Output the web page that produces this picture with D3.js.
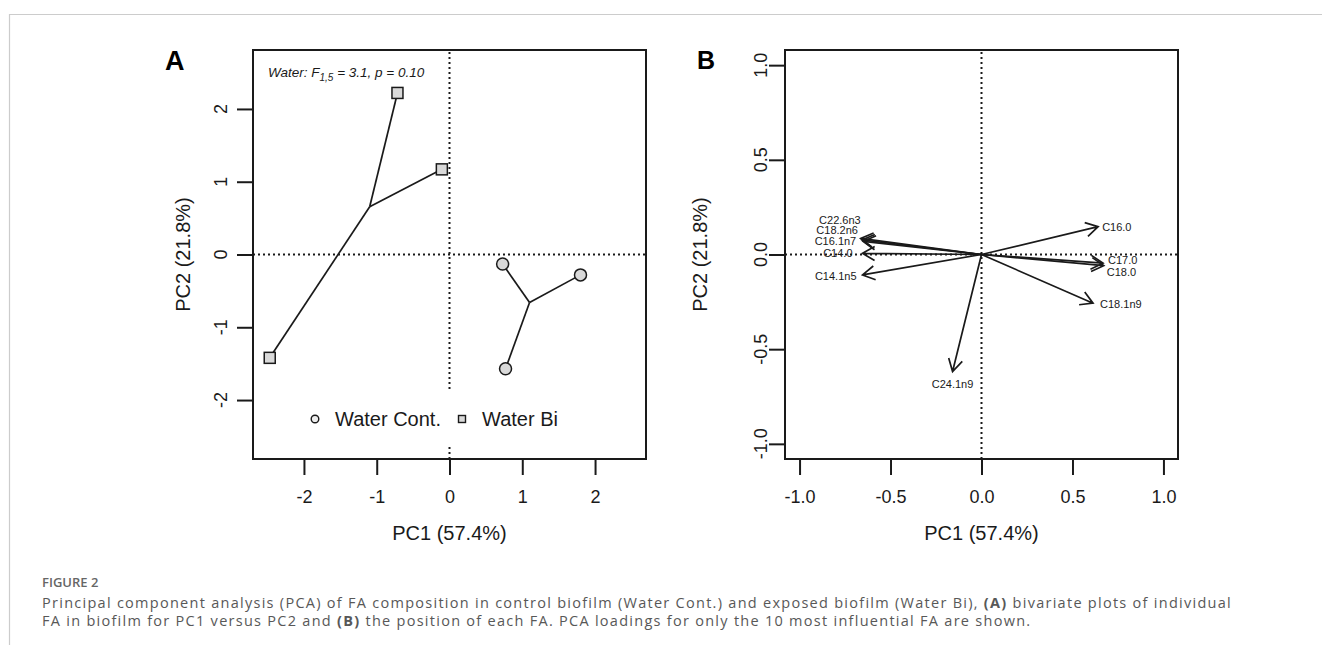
<!DOCTYPE html>
<html><head><meta charset="utf-8">
<script src="https://cdn.jsdelivr.net/npm/d3@7"></script>
<style>body{margin:0;background:#fff} svg{display:block}</style>
</head><body>
<svg id="c" width="1322" height="655"></svg>
<script>
// ---------- DATA ----------
const groupNames = ["Water Cont.", "Water Bi"];
const contPC1 = [0.73, 1.80, 0.77];
const contPC2 = [-0.13, -0.28, -1.57];
const biPC1 = [-0.715, -0.105, -2.47];
const biPC2 = [2.22, 1.17, -1.42];
const ticksA = [-2, -1, 0, 1, 2];
const tickLabelsA = ["-2", "-1", "0", "1", "2"];

const faNames = ["C16.0", "C17.0", "C18.0", "C18.1n9", "C22.6n3", "C18.2n6", "C16.1n7", "C14.0", "C14.1n5", "C24.1n9"];
const loadPC1 = [0.641, 0.668, 0.672, 0.613, -0.664, -0.657, -0.650, -0.654, -0.654, -0.159];
const loadPC2 = [0.147, -0.046, -0.059, -0.257, 0.085, 0.077, 0.069, 0.006, -0.108, -0.618];
const ticksB = [-1, -0.5, 0, 0.5, 1];
const tickLabelsB = ["-1.0", "-0.5", "0.0", "0.5", "1.0"];

const axisTitleX = "PC1 (57.4%)";
const axisTitleY = "PC2 (21.8%)";

// ---------- LAYOUT ----------
const FONT = "'Liberation Sans', Arial, Helvetica, sans-serif";
const INK = "#1a1a1a";
const FILL = "#d9d9d9";
const labelLayout = {
  "C16.0":   {anchor: "start",  dx: 4,   dy: 0},
  "C17.0":   {anchor: "start",  dx: 5,   dy: -3},
  "C18.0":   {anchor: "start",  dx: 3,   dy: 6},
  "C18.1n9": {anchor: "start",  dx: 7,   dy: 1},
  "C22.6n3": {anchor: "end",    dx: 0,   dy: -18},
  "C18.2n6": {anchor: "end",    dx: -4,  dy: -9.5},
  "C16.1n7": {anchor: "end",    dx: -7,  dy: -0.7},
  "C14.0":   {anchor: "end",    dx: -10, dy: 0},
  "C14.1n5": {anchor: "end",    dx: -6,  dy: 0.7},
  "C24.1n9": {anchor: "middle", dx: 0,   dy: 12.5}
};

const svg = d3.select("#c");

// page border
svg.append("path").attr("d", "M9.5,645 V14.5 H1322").attr("fill", "none")
  .attr("stroke", "#cccccc").attr("stroke-width", 1.2);

function drawFrame(g, x, y, ticks, tickLabels, yTickBase, yTitleBase) {
  const [x0, x1] = x.range(), [y0, y1] = y.range();
  const ax = g.append("g").attr("transform", `translate(0,${y0})`)
    .call(d3.axisBottom(x).tickValues(ticks).tickSize(16).tickPadding(0)
      .tickFormat((d, i) => tickLabels[i]));
  ax.select(".domain").remove();
  ax.selectAll(".tick line").attr("stroke", INK).attr("stroke-width", 2);
  ax.selectAll(".tick text").attr("fill", INK).attr("font-family", FONT)
    .attr("font-size", 18).attr("dy", null).attr("y", 502.5 - y0)
    .attr("dominant-baseline", "auto");
  const ay = g.append("g").attr("transform", `translate(${x0},0)`)
    .call(d3.axisLeft(y).tickValues(ticks).tickSize(16).tickFormat(""));
  ay.select(".domain").remove();
  ay.selectAll(".tick line").attr("stroke", INK).attr("stroke-width", 2);
  g.selectAll(null).data(ticks).join("text")
    .attr("transform", (d) => `translate(${yTickBase},${y(d)}) rotate(-90)`)
    .attr("text-anchor", "middle").attr("font-family", FONT).attr("font-size", 18)
    .attr("fill", INK).text((d, i) => tickLabels[i]);
  g.append("text").attr("x", (x0 + x1) / 2).attr("y", 540).attr("text-anchor", "middle")
    .attr("font-family", FONT).attr("font-size", 20).attr("fill", INK).text(axisTitleX);
  g.append("text").attr("transform", `translate(${yTitleBase},${(y0 + y1) / 2}) rotate(-90)`)
    .attr("text-anchor", "middle").attr("font-family", FONT).attr("font-size", 20)
    .attr("fill", INK).text(axisTitleY);
}
function zeroLines(g, x, y) {
  const [x0, x1] = x.range(), [y0, y1] = y.range();
  g.append("line").attr("x1", x0).attr("x2", x1).attr("y1", y(0)).attr("y2", y(0));
  g.append("line").attr("x1", x(0)).attr("x2", x(0)).attr("y1", y0).attr("y2", y1);
  g.selectAll("line").attr("stroke", INK).attr("stroke-width", 2).attr("stroke-dasharray", "2,3");
}
function box(g, x, y) {
  const [x0, x1] = x.range(), [y0, y1] = y.range();
  g.append("rect").attr("x", x0).attr("y", y1).attr("width", x1 - x0).attr("height", y0 - y1)
    .attr("fill", "none").attr("stroke", INK).attr("stroke-width", 2);
}

// ---------- PANEL A ----------
const xA = d3.scaleLinear().domain([-2.70, 2.70]).range([253, 646]);
const yA = d3.scaleLinear().domain([-2.81, 2.81]).range([459, 50]);
const gA = svg.append("g");
zeroLines(gA.append("g"), xA, yA);

// legend background (covers the dotted line)
gA.append("rect").attr("x", 298).attr("y", 392).attr("width", 280).attr("height", 53).attr("fill", "#fff");

const groupsA = [
  {name: groupNames[0], px: contPC1, py: contPC2, shape: "circle"},
  {name: groupNames[1], px: biPC1, py: biPC2, shape: "square"}
];
groupsA.forEach((grp) => {
  const cx = d3.mean(grp.px), cy = d3.mean(grp.py);
  gA.selectAll(null).data(grp.px).join("line")
    .attr("x1", xA(cx)).attr("y1", yA(cy))
    .attr("x2", (d) => xA(d)).attr("y2", (d, i) => yA(grp.py[i]))
    .attr("stroke", INK).attr("stroke-width", 1.7);
});
groupsA.forEach((grp) => {
  if (grp.shape === "circle") {
    gA.selectAll(null).data(grp.px).join("circle")
      .attr("cx", (d) => xA(d)).attr("cy", (d, i) => yA(grp.py[i])).attr("r", 6)
      .attr("fill", FILL).attr("stroke", INK).attr("stroke-width", 1.5);
  } else {
    gA.selectAll(null).data(grp.px).join("rect")
      .attr("x", (d) => xA(d) - 5.5).attr("y", (d, i) => yA(grp.py[i]) - 5.5)
      .attr("width", 11).attr("height", 11)
      .attr("fill", FILL).attr("stroke", INK).attr("stroke-width", 1.5);
  }
});
box(gA, xA, yA);
drawFrame(gA, xA, yA, ticksA, tickLabelsA, 227, 190);

// legend
gA.append("circle").attr("cx", 315).attr("cy", 419).attr("r", 3.8)
  .attr("fill", "#eeeeee").attr("stroke", INK).attr("stroke-width", 1.4);
gA.append("text").attr("x", 335).attr("y", 426).attr("font-family", FONT).attr("font-size", 20)
  .attr("fill", INK).text(groupNames[0]);
gA.append("rect").attr("x", 458.5).attr("y", 415.5).attr("width", 7).attr("height", 7)
  .attr("fill", FILL).attr("stroke", INK).attr("stroke-width", 1.4);
gA.append("text").attr("x", 482).attr("y", 426).attr("font-family", FONT).attr("font-size", 20)
  .attr("fill", INK).text(groupNames[1]);

// annotation
const ann = gA.append("text").attr("x", 268).attr("y", 77).attr("font-family", FONT)
  .attr("font-size", 13.5).attr("font-style", "italic").attr("fill", INK);
ann.append("tspan").text("Water: F");
ann.append("tspan").attr("font-size", 10).attr("dy", 3.5).text("1,5");
ann.append("tspan").attr("dy", -3.5).text(" = 3.1, p = 0.10");

svg.append("text").attr("x", 165).attr("y", 70).attr("font-family", FONT).attr("font-weight", "bold")
  .attr("font-size", 27).attr("fill", "#000").text("A");

// ---------- PANEL B ----------
const xB = d3.scaleLinear().domain([-1.08, 1.08]).range([785, 1178]);
const yB = d3.scaleLinear().domain([-1.08, 1.08]).range([459, 50]);
const gB = svg.append("g");
zeroLines(gB.append("g"), xB, yB);

const loadings = faNames.map((n, i) => ({name: n, pc1: loadPC1[i], pc2: loadPC2[i]}));
const head = 14, ang = Math.PI / 6;
gB.selectAll(null).data(loadings).join("path")
  .attr("d", (d) => {
    const ox = xB(0), oy = yB(0), tx = xB(d.pc1), ty = yB(d.pc2);
    const a = Math.atan2(ty - oy, tx - ox);
    const p1 = [tx - head * Math.cos(a - ang), ty - head * Math.sin(a - ang)];
    const p2 = [tx - head * Math.cos(a + ang), ty - head * Math.sin(a + ang)];
    return `M${ox},${oy}L${tx},${ty}M${p1[0]},${p1[1]}L${tx},${ty}L${p2[0]},${p2[1]}`;
  })
  .attr("fill", "none").attr("stroke", INK).attr("stroke-width", 1.7);
gB.selectAll(null).data(loadings).join("text")
  .attr("x", (d) => xB(d.pc1) + labelLayout[d.name].dx)
  .attr("y", (d) => yB(d.pc2) + labelLayout[d.name].dy)
  .attr("text-anchor", (d) => labelLayout[d.name].anchor)
  .attr("dominant-baseline", "central")
  .attr("font-family", FONT).attr("font-size", 11).attr("fill", INK)
  .text((d) => d.name);

box(gB, xB, yB);
drawFrame(gB, xB, yB, ticksB, tickLabelsB, 767, 707);

svg.append("text").attr("x", 697).attr("y", 69).attr("font-family", FONT).attr("font-weight", "bold")
  .attr("font-size", 25).attr("fill", "#000").text("B");

// ---------- CAPTION ----------
const CFONT = "'Open Sans', 'Noto Sans', sans-serif";
svg.append("text").attr("x", 42).attr("y", 587).attr("font-family", CFONT).attr("font-weight", 600)
  .attr("font-size", 13).attr("fill", "#666").text("FIGURE 2");
const capLines = [
  [["Principal component analysis (PCA) of FA composition in control biofilm (Water Cont.) and exposed biofilm (Water Bi), ", false], ["(A)", true], [" bivariate plots of individual", false]],
  [["FA in biofilm for PC1 versus PC2 and ", false], ["(B)", true], [" the position of each FA. PCA loadings for only the 10 most influential FA are shown.", false]]
];
const capBase = [608, 625.5];
const capFs = 14.5;
const capTexts = capLines.map((parts, li) => {
  const t = svg.append("text").attr("x", 42).attr("y", capBase[li]).attr("font-family", CFONT)
    .attr("font-size", capFs).attr("fill", "#585858");
  parts.forEach(([s, b]) => t.append("tspan").attr("font-weight", b ? 700 : 400).text(s));
  return t;
});
const n0 = capLines[0].map((p) => p[0]).join("").length;
const w0 = capTexts[0].node().getComputedTextLength();
const ls = (1190 - w0) / n0;
capTexts.forEach((t) => t.attr("letter-spacing", ls));
</script>
</body></html>
